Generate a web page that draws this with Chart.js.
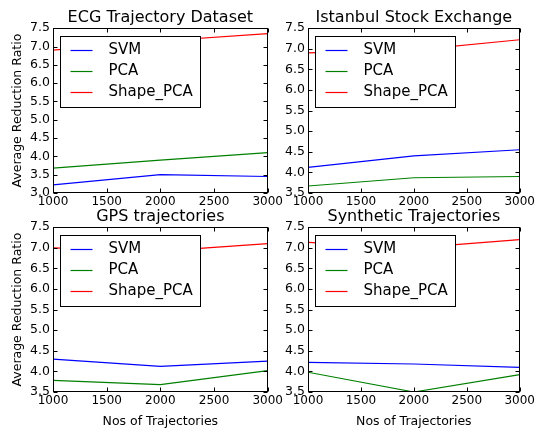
<!DOCTYPE html>
<html>
<head>
<meta charset="utf-8">
<script src="https://cdn.jsdelivr.net/npm/chart.js@4.4.0/dist/chart.umd.min.js"></script>
<style>
  body { margin: 0; background: #fff; }
  #fig { position: relative; width: 537px; height: 430px; overflow: hidden; background: #fff; }
  #fig canvas { position: absolute; }
</style>
</head>
<body>
<div id="fig">
  <canvas id="ecg" width="285" height="215" style="left:0px;top:0px"></canvas>
  <canvas id="istanbul" width="269" height="215" style="left:268px;top:0px"></canvas>
  <canvas id="gps" width="285" height="231" style="left:0px;top:199px"></canvas>
  <canvas id="synthetic" width="269" height="231" style="left:268px;top:199px"></canvas>
</div>
<script>
// data
var trajectoryCounts = [1000, 2000, 3000];
var seriesNames = ["SVM", "PCA", "Shape_PCA"];
var seriesColors = ["#0000ff", "#008000", "#ff0000"];

var ecgSVM = [3.22, 3.5, 3.45];
var ecgPCA = [3.68, 3.9, 4.1];
var ecgShapePCA = [6.9, 7.15, 7.35];

var istanbulSVM = [4.12, 4.4, 4.55];
var istanbulPCA = [3.67, 3.87, 3.9];
var istanbulShapePCA = [6.9, 6.97, 7.22];

var gpsSVM = [4.3, 4.12, 4.25];
var gpsPCA = [3.78, 3.68, 4.02];
var gpsShapePCA = [7.0, 6.92, 7.1];

var syntheticSVM = [4.22, 4.18, 4.1];
var syntheticPCA = [3.98, 3.5, 3.92];
var syntheticShapePCA = [7.13, 7.0, 7.2];

var xTicks = [1000, 1500, 2000, 2500, 3000];
var yTicksECG = [3.0, 3.5, 4.0, 4.5, 5.0, 5.5, 6.0, 6.5, 7.0, 7.5];
var yTicksOther = [3.5, 4.0, 4.5, 5.0, 5.5, 6.0, 6.5, 7.0, 7.5];

var FONT = "DejaVu Sans";

function makeDatasets(svm, pca, shape) {
  var all = [svm, pca, shape];
  var sets = [];
  for (var i = 0; i < all.length; i++) {
    var pts = [];
    for (var j = 0; j < trajectoryCounts.length; j++) {
      pts.push({ x: trajectoryCounts[j], y: all[i][j] });
    }
    sets.push({
      label: seriesNames[i],
      data: pts,
      borderColor: seriesColors[i],
      backgroundColor: seriesColors[i],
      borderWidth: 1.2,
      pointRadius: 0,
      tension: 0,
      fill: false
    });
  }
  return sets;
}

// frame, inward ticks on all four sides and the boxed legend
var framePlugin = {
  id: "framePlugin",
  afterDatasetsDraw: function (chart) {
    var ctx = chart.ctx;
    var a = chart.chartArea;
    var l = Math.round(a.left) + 0.5, r = Math.round(a.right) - 0.5;
    var t = Math.round(a.top) + 0.5, b = Math.round(a.bottom) - 0.5;
    ctx.save();
    ctx.strokeStyle = "#000";
    ctx.lineWidth = 1;
    ctx.beginPath();
    var xs = chart.scales.x, ys = chart.scales.y;
    xs.ticks.forEach(function (tk) {
      var px = Math.round(xs.getPixelForValue(tk.value)) + 0.5;
      ctx.moveTo(px, b); ctx.lineTo(px, b - 4);
      ctx.moveTo(px, t); ctx.lineTo(px, t + 4);
    });
    ys.ticks.forEach(function (tk) {
      var py = Math.round(ys.getPixelForValue(tk.value)) + 0.5;
      ctx.moveTo(l, py); ctx.lineTo(l + 4, py);
      ctx.moveTo(r, py); ctx.lineTo(r - 4, py);
    });
    ctx.stroke();
    ctx.strokeRect(l, t, r - l, b - t);

    // legend box, upper left
    var lx = Math.round(a.left) + 7.5, ly = Math.round(a.top) + 8.5;
    var lw = 140, lh = 71;
    ctx.fillStyle = "#fff";
    ctx.fillRect(lx, ly, lw, lh);
    ctx.strokeRect(lx, ly, lw, lh);
    ctx.font = "15px '" + FONT + "'";
    ctx.textBaseline = "middle";
    ctx.textAlign = "left";
    chart.data.datasets.forEach(function (ds, i) {
      var cy = Math.round(ly + 13 + i * 21.3) + 0.5;
      ctx.strokeStyle = ds.borderColor;
      ctx.lineWidth = 1.2;
      ctx.beginPath();
      ctx.moveTo(lx + 10, cy);
      ctx.lineTo(lx + 32, cy);
      ctx.stroke();
      ctx.fillStyle = "#000";
      ctx.fillText(ds.label, lx + 48, cy);
    });
    ctx.restore();
  }
};

function makeChart(id, title, svm, pca, shape, yTicks, opts) {
  var yMin = yTicks[0], yMax = yTicks[yTicks.length - 1];
  return new Chart(document.getElementById(id), {
    type: "line",
    data: { datasets: makeDatasets(svm, pca, shape) },
    plugins: [framePlugin],
    options: {
      responsive: false,
      animation: false,
      layout: { padding: { left: 0, right: opts.padRight, top: 0, bottom: 0 } },
      plugins: {
        legend: { display: false },
        tooltip: { enabled: false },
        title: {
          display: true,
          text: title,
          fullSize: false,
          color: "#000",
          font: { family: FONT, size: 16, weight: "normal" },
          padding: { top: 8, bottom: 1 }
        }
      },
      scales: {
        x: {
          type: "linear",
          min: xTicks[0],
          max: xTicks[xTicks.length - 1],
          afterBuildTicks: function (s) {
            s.ticks = xTicks.map(function (v) { return { value: v }; });
          },
          ticks: {
            color: "#000",
            font: { family: FONT, size: 12 },
            padding: 2,
            maxRotation: 0,
            autoSkip: false,
            callback: function (v) { return String(v); }
          },
          grid: { display: false, drawTicks: false },
          border: { display: false },
          title: {
            display: opts.xTitle,
            text: "Nos of Trajectories",
            color: "#000",
            font: { family: FONT, size: 12.5 },
            padding: { top: 0, bottom: 1 }
          },
          afterFit: function (s) { s.height = opts.xHeight; }
        },
        y: {
          type: "linear",
          min: yMin,
          max: yMax,
          afterBuildTicks: function (s) {
            s.ticks = yTicks.map(function (v) { return { value: v }; });
          },
          ticks: {
            color: "#000",
            font: { family: FONT, size: 12.5 },
            padding: 3,
            autoSkip: false,
            callback: function (v) { return v.toFixed(1); }
          },
          grid: { display: false, drawTicks: false },
          border: { display: false },
          title: {
            display: opts.yTitle,
            text: "Average Reduction Ratio",
            color: "#000",
            font: { family: FONT, size: 12.5 },
            padding: { top: 10, bottom: 0 }
          },
          afterFit: function (s) { s.width = opts.yWidth; }
        }
      }
    }
  });
}

makeChart("ecg", "ECG Trajectory Dataset", ecgSVM, ecgPCA, ecgShapePCA, yTicksECG,
  { padRight: 17, xHeight: 22, yWidth: 53, xTitle: false, yTitle: true });
makeChart("istanbul", "Istanbul Stock Exchange", istanbulSVM, istanbulPCA, istanbulShapePCA, yTicksOther,
  { padRight: 16, xHeight: 22, yWidth: 40, xTitle: false, yTitle: false });
makeChart("gps", "GPS trajectories", gpsSVM, gpsPCA, gpsShapePCA, yTicksOther,
  { padRight: 17, xHeight: 38, yWidth: 53, xTitle: true, yTitle: true });
makeChart("synthetic", "Synthetic Trajectories", syntheticSVM, syntheticPCA, syntheticShapePCA, yTicksOther,
  { padRight: 16, xHeight: 38, yWidth: 40, xTitle: true, yTitle: false });
</script>
</body>
</html>
